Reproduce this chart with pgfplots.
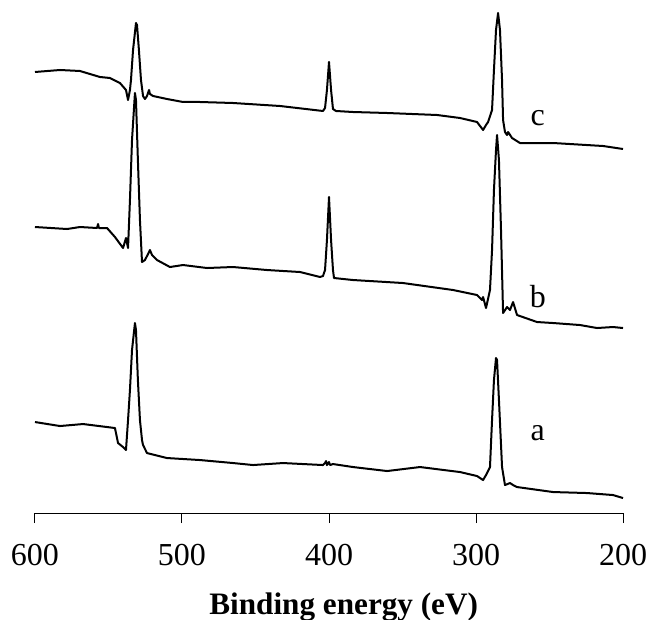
\documentclass[border=0pt]{standalone}
\usepackage{fontspec}
\setmainfont{Liberation Serif}
\usepackage{pgfplots}
\pgfplotsset{compat=1.18}
\begin{document}
\begin{tikzpicture}
\begin{axis}[
  scale only axis,
  width=294pt, height=256.5pt,
  xmin=200, xmax=600, x dir=reverse,
  ymin=-513, ymax=0,
  axis x line=bottom,
  hide y axis,
  axis line style={-, line width=0.5pt},
  xtick={200,300,400,500,600},
  minor xtick={},
  tick align=outside,
  major tick length=5pt,
  tick style={line width=0.5pt, black},
  /pgf/number format/assume math mode=true,
  xticklabel style={font=\fontsize{16}{18}\selectfont, anchor=base, yshift=-21pt},
  xlabel={Binding energy (eV)},
  xlabel style={font=\fontsize{15.6}{18}\selectfont\bfseries, at={(axis cs:390,-614)}, anchor=base},
  clip=false,
  cycle list={{black}},
  every axis plot post/.append style={line width=1pt, black, no marks, line join=round},
]
% curve c
\addplot coordinates {(600,-72) (583,-70) (569.4,-71) (555.8,-77) (549,-78) (542.2,-83) (538.1,-90) (536.7,-100) (535.4,-90) (534.7,-80) (533.3,-50) (531.3,-23) (530.6,-25) (529.3,-50) (527.9,-80) (526.5,-96) (525.2,-99) (523.8,-96) (522.4,-90) (521.8,-94) (519.7,-96) (510.2,-99) (499.3,-102) (487.8,-102) (465.3,-103) (433.3,-106) (404.1,-111) (402.7,-108) (401.4,-90) (400,-62) (398.6,-90) (397.3,-109) (395.2,-111) (383.7,-112) (360.5,-113) (326.5,-115) (310.9,-118) (299.3,-122) (295.2,-130) (293.2,-125) (291.8,-122) (289.1,-110) (287.8,-70) (286.4,-30) (285,-13) (283.7,-30) (282.3,-80) (281.6,-120) (280.3,-132) (278.9,-135) (278.2,-132) (275.5,-138) (270.1,-143) (247.6,-143) (213.6,-146) (200,-149)};
% curve b
\addplot coordinates {(600,-227) (578.2,-229) (569.4,-227) (557.8,-228) (557.1,-224) (556.5,-228) (551,-228) (545.6,-237) (540.1,-248) (538.1,-238) (536.7,-248) (535.4,-200) (534,-140) (532,-93) (531.3,-100) (530,-160) (528.6,-220) (527.2,-262) (525.2,-260) (522.4,-252) (521.8,-250) (520.4,-255) (517,-260) (508.2,-267) (499.3,-265) (483,-268) (465.3,-267) (442.2,-270) (419.7,-272) (406.1,-277) (404.1,-276) (402.7,-270) (401.4,-240) (400,-197) (398.6,-240) (397.3,-270) (396.6,-278) (383.7,-280) (349.7,-283) (315.6,-290) (299.3,-295) (295.9,-300) (295.2,-297) (293.2,-308) (290.5,-290) (289.1,-250) (287.8,-190) (286.4,-150) (285.7,-135) (284.4,-160) (283,-230) (281.6,-313) (278.9,-307) (276.9,-310) (274.8,-302) (272.1,-315) (258.5,-322) (247.6,-323) (229.3,-325) (217.7,-328) (206.8,-327) (200,-328)};
% curve a
\addplot coordinates {(600,-422) (583,-426) (567.3,-424) (545.6,-428) (543.5,-443) (540.1,-447) (538.1,-450) (536.7,-420) (535.4,-390) (534,-350) (532,-323) (531.3,-330) (530,-380) (528.6,-420) (527.2,-440) (526.5,-445) (523.8,-453) (510.2,-458) (487.8,-460) (465.3,-463) (451.7,-465) (431.3,-463) (404.1,-465) (402.7,-463) (402,-461) (401.4,-465) (400,-462) (399.3,-465) (397.3,-464) (383.7,-467) (360.5,-471) (338.1,-467) (310.9,-472) (299.3,-476) (295.2,-480) (293.2,-475) (290.5,-467) (289.1,-420) (287.8,-380) (286.4,-358) (285.7,-360) (284.4,-400) (282.3,-467) (280.3,-485) (276.9,-483) (274.8,-485) (272.1,-487) (247.6,-492) (224.5,-493) (206.8,-495) (200,-498)};
\node[font=\fontsize{16}{18}\selectfont] at (axis cs:258,-118) {c};
\node[font=\fontsize{16}{18}\selectfont] at (axis cs:258,-297) {b};
\node[font=\fontsize{16}{18}\selectfont] at (axis cs:258,-433) {a};
\coordinate (bbl) at (axis cs:623.8,-619);
\coordinate (btr) at (axis cs:183.7,0);
\end{axis}
\pgfresetboundingbox
\path (bbl) rectangle (btr);
\end{tikzpicture}
\end{document}
